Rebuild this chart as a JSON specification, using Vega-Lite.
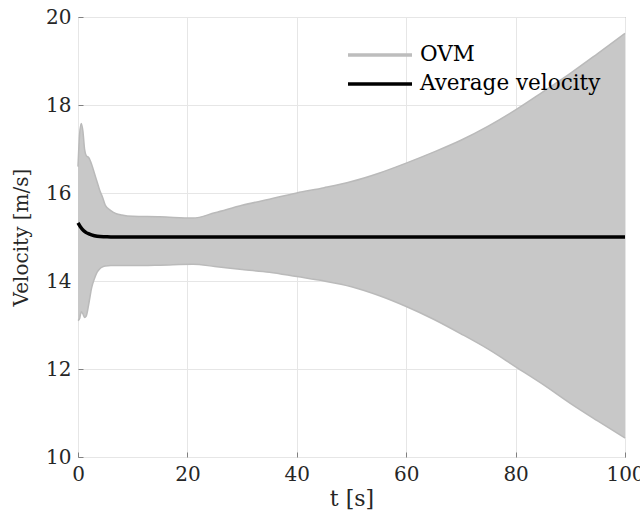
{
  "$schema": "https://vega.github.io/schema/vega-lite/v6.json",
  "width": 547,
  "height": 440,
  "autosize": {"type": "none"},
  "padding": {"left": 78, "top": 17, "right": 15, "bottom": 66},
  "background": "white",
  "config": {
    "font": "DejaVu Serif",
    "view": {"stroke": "#808080", "strokeWidth": 1},
    "axis": {
      "labelFont": "DejaVu Serif",
      "titleFont": "DejaVu Serif",
      "labelFontSize": 20,
      "titleFontSize": 22,
      "labelColor": "#262626",
      "titleColor": "#262626",
      "titleFontWeight": "normal",
      "gridColor": "#e6e6e6",
      "gridWidth": 1,
      "domain": false,
      "tickColor": "#808080",
      "tickSize": -5,
      "labelFlush": false
    },
    "legend": {"labelLimit": 0, "labelFont": "DejaVu Serif"}
  },
  "datasets": {
    "ovm": [
      {"t": 0, "lo": 13.1, "hi": 16.6},
      {"t": 0.3, "lo": 13.15, "hi": 17.35},
      {"t": 0.6, "lo": 13.3, "hi": 17.58},
      {"t": 0.9, "lo": 13.25, "hi": 17.4},
      {"t": 1.2, "lo": 13.17, "hi": 17.0},
      {"t": 1.5, "lo": 13.2, "hi": 16.85},
      {"t": 2.0, "lo": 13.5, "hi": 16.8},
      {"t": 2.5, "lo": 13.85, "hi": 16.65},
      {"t": 3.0, "lo": 14.05, "hi": 16.45},
      {"t": 3.5, "lo": 14.2, "hi": 16.25},
      {"t": 4.0, "lo": 14.28, "hi": 16.05},
      {"t": 4.5, "lo": 14.32, "hi": 15.9},
      {"t": 5.0, "lo": 14.34, "hi": 15.72},
      {"t": 6.0, "lo": 14.35, "hi": 15.6},
      {"t": 7.0, "lo": 14.35, "hi": 15.53},
      {"t": 8.0, "lo": 14.35, "hi": 15.5},
      {"t": 10, "lo": 14.35, "hi": 15.47},
      {"t": 15, "lo": 14.36, "hi": 15.46},
      {"t": 21, "lo": 14.38, "hi": 15.43},
      {"t": 25, "lo": 14.33, "hi": 15.55},
      {"t": 30, "lo": 14.26, "hi": 15.72},
      {"t": 35, "lo": 14.2, "hi": 15.86},
      {"t": 40, "lo": 14.1, "hi": 16.0},
      {"t": 45, "lo": 14.0, "hi": 16.12},
      {"t": 50, "lo": 13.87, "hi": 16.26},
      {"t": 55, "lo": 13.67, "hi": 16.45},
      {"t": 60, "lo": 13.42, "hi": 16.68},
      {"t": 65, "lo": 13.13, "hi": 16.93},
      {"t": 70, "lo": 12.8, "hi": 17.2},
      {"t": 75, "lo": 12.45, "hi": 17.52},
      {"t": 80, "lo": 12.05, "hi": 17.89},
      {"t": 85, "lo": 11.65, "hi": 18.3},
      {"t": 90, "lo": 11.22, "hi": 18.72},
      {"t": 95, "lo": 10.82, "hi": 19.17},
      {"t": 100, "lo": 10.43, "hi": 19.63}
    ],
    "avg": [
      {"t": 0, "v": 15.32, "series": "Average velocity"},
      {"t": 0.5, "v": 15.22, "series": "Average velocity"},
      {"t": 1, "v": 15.15, "series": "Average velocity"},
      {"t": 1.5, "v": 15.1, "series": "Average velocity"},
      {"t": 2, "v": 15.07, "series": "Average velocity"},
      {"t": 3, "v": 15.03, "series": "Average velocity"},
      {"t": 4, "v": 15.01, "series": "Average velocity"},
      {"t": 5, "v": 15.005, "series": "Average velocity"},
      {"t": 6, "v": 15.0, "series": "Average velocity"},
      {"t": 20, "v": 15.0, "series": "Average velocity"},
      {"t": 50, "v": 15.0, "series": "Average velocity"},
      {"t": 100, "v": 15.0, "series": "Average velocity"}
    ]
  },
  "layer": [
    {
      "data": {"name": "ovm"},
      "mark": {"type": "area", "color": "#c8c8c8", "interpolate": "monotone", "opacity": 1},
      "encoding": {
        "x": {
          "field": "t", "type": "quantitative",
          "scale": {"domain": [0, 100], "nice": false, "zero": false},
          "axis": {"values": [0, 20, 40, 60, 80, 100], "title": "t [s]", "labelPadding": 12, "titlePadding": 4, "grid": true}
        },
        "y": {
          "field": "lo", "type": "quantitative",
          "scale": {"domain": [10, 20], "nice": false, "zero": false},
          "axis": {"values": [10, 12, 14, 16, 18, 20], "title": "Velocity [m/s]", "titleFontSize": 20, "labelPadding": 12, "titlePadding": 14, "grid": true}
        },
        "y2": {"field": "hi"}
      }
    },
    {
      "data": {"name": "ovm"},
      "mark": {"type": "line", "color": "#bababa", "strokeWidth": 1.5, "interpolate": "monotone"},
      "encoding": {
        "x": {"field": "t", "type": "quantitative"},
        "y": {"field": "hi", "type": "quantitative"}
      }
    },
    {
      "data": {"name": "ovm"},
      "mark": {"type": "line", "color": "#bababa", "strokeWidth": 1.5, "interpolate": "monotone"},
      "encoding": {
        "x": {"field": "t", "type": "quantitative"},
        "y": {"field": "lo", "type": "quantitative"}
      }
    },
    {
      "data": {"name": "avg"},
      "mark": {"type": "line", "strokeWidth": 3.5, "interpolate": "monotone"},
      "encoding": {
        "x": {"field": "t", "type": "quantitative"},
        "y": {"field": "v", "type": "quantitative"},
        "color": {
          "field": "series", "type": "nominal",
          "scale": {"domain": ["OVM", "Average velocity"], "range": ["#bdbdbd", "#000000"]},
          "legend": {
            "orient": "none",
            "legendX": 284,
            "legendY": 20,
            "title": null,
            "symbolType": "M-2,0H2",
            "symbolSize": 1024,
            "symbolStrokeWidth": 3.5,
            "labelFont": "DejaVu Serif",
            "labelFontSize": 21.5,
            "labelColor": "#000000",
            "labelOffset": 22,
            "labelLimit": 0,
            "rowPadding": 0
          }
        }
      }
    }
  ]
}
